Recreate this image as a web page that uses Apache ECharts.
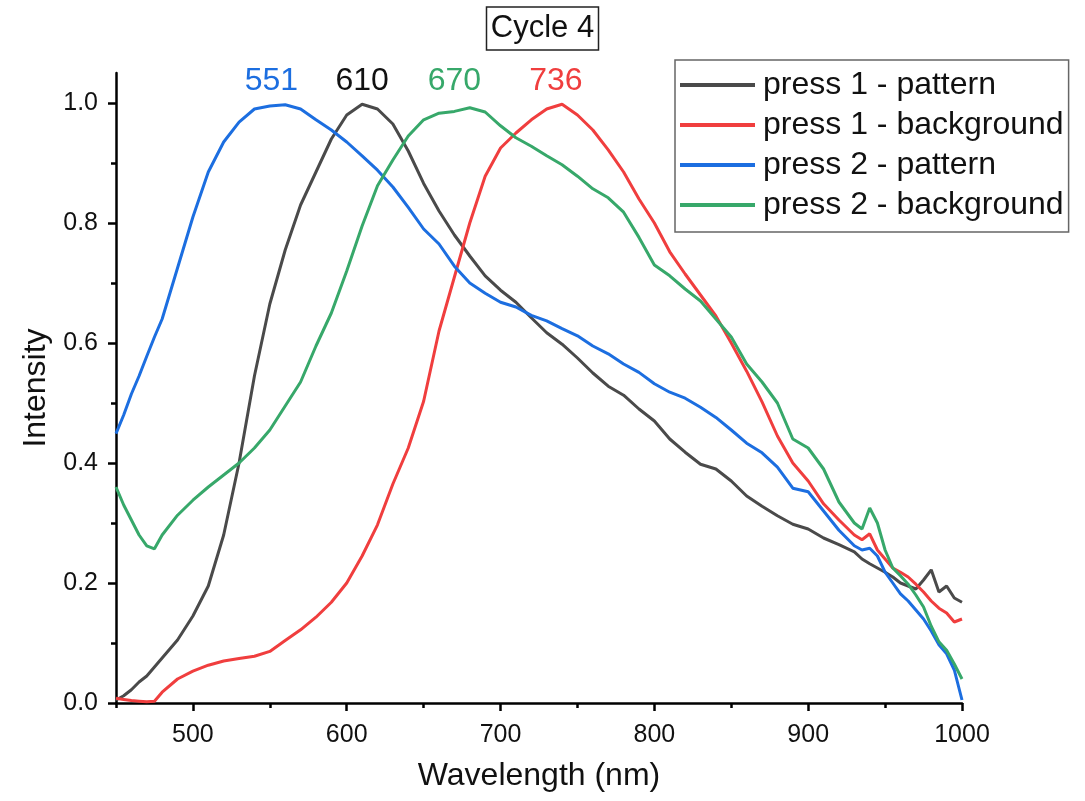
<!DOCTYPE html>
<html>
<head>
<meta charset="utf-8">
<title>Cycle 4</title>
<script src="https://cdn.jsdelivr.net/npm/echarts@6/dist/echarts.min.js"></script>
<style>
	html, body { margin: 0; padding: 0; background: #fff; }
	#chart { width: 1085px; height: 801px; }
</style>
</head>
<body>
<div id="chart"></div>
<script>
// wavelengths (nm), shared by all four spectra
var wavelength = [450, 455, 460, 465, 470, 475, 480, 490, 500, 510, 520, 530, 540, 550, 560, 570, 580, 590, 600, 610,
	620, 630, 640, 650, 660, 670, 680, 690, 700, 710, 720, 730, 740, 750, 760, 770, 780, 790, 800, 810,
	820, 830, 840, 850, 860, 870, 880, 890, 900, 910, 920, 930, 935, 940, 945, 950, 955, 960, 965, 970,
	975, 980, 985, 990, 995, 1000];

var press1Pattern = [0.005, 0.012, 0.022, 0.035, 0.045, 0.06, 0.075, 0.105, 0.145, 0.195, 0.28, 0.40, 0.545, 0.665, 0.755, 0.83, 0.885, 0.94, 0.98, 0.998,
	0.99, 0.965, 0.92, 0.866, 0.82, 0.78, 0.745, 0.712, 0.688, 0.668, 0.642, 0.617, 0.598, 0.575, 0.55, 0.528, 0.513, 0.49, 0.47, 0.44,
	0.418, 0.398, 0.39, 0.37, 0.345, 0.328, 0.312, 0.298, 0.29, 0.275, 0.264, 0.252, 0.24, 0.232, 0.225, 0.218, 0.21, 0.2, 0.195, 0.19,
	0.205, 0.222, 0.185, 0.195, 0.175, 0.168];

var press1Background = [0.008, 0.006, 0.004, 0.003, 0.002, 0.003, 0.018, 0.04, 0.053, 0.063, 0.07, 0.074, 0.078, 0.086, 0.104, 0.122, 0.143, 0.168, 0.2, 0.245,
	0.297, 0.365, 0.425, 0.503, 0.62, 0.71, 0.8, 0.878, 0.925, 0.95, 0.972, 0.99, 0.998, 0.98, 0.955, 0.922, 0.885, 0.84, 0.8, 0.752,
	0.715, 0.68, 0.645, 0.6, 0.553, 0.502, 0.445, 0.4, 0.37, 0.332, 0.305, 0.28, 0.272, 0.282, 0.255, 0.24, 0.225, 0.218, 0.21, 0.198,
	0.185, 0.17, 0.158, 0.15, 0.135, 0.14];

var press2Pattern = [0.449, 0.48, 0.515, 0.545, 0.578, 0.61, 0.64, 0.725, 0.81, 0.885, 0.935, 0.968, 0.99, 0.995, 0.997, 0.99, 0.972, 0.955, 0.935, 0.912,
	0.888, 0.86, 0.826, 0.79, 0.765, 0.728, 0.7, 0.683, 0.668, 0.66, 0.646, 0.637, 0.624, 0.612, 0.595, 0.582, 0.565, 0.551, 0.532, 0.518,
	0.508, 0.493, 0.476, 0.455, 0.433, 0.417, 0.393, 0.358, 0.352, 0.32, 0.288, 0.262, 0.255, 0.258, 0.245, 0.218, 0.2, 0.182, 0.17, 0.155,
	0.14, 0.12, 0.097, 0.082, 0.055, 0.005];

var press2Background = [0.36, 0.33, 0.305, 0.28, 0.262, 0.257, 0.28, 0.313, 0.338, 0.36, 0.38, 0.4, 0.425, 0.455, 0.495, 0.535, 0.595, 0.65, 0.72, 0.795,
	0.862, 0.905, 0.945, 0.972, 0.983, 0.986, 0.992, 0.985, 0.962, 0.942, 0.928, 0.912, 0.897, 0.878, 0.857, 0.842, 0.818, 0.776, 0.73, 0.712,
	0.69, 0.67, 0.64, 0.61, 0.565, 0.535, 0.5, 0.44, 0.425, 0.39, 0.335, 0.3, 0.29, 0.325, 0.3, 0.255, 0.225, 0.212, 0.198, 0.18,
	0.16, 0.128, 0.102, 0.088, 0.065, 0.04];

var seriesNames = ['press 1 - pattern', 'press 1 - background', 'press 2 - pattern', 'press 2 - background'];
var seriesColors = ['#4a4a4a', '#f03e3e', '#1c6ee0', '#37a86a'];
var peakWavelengths = [610, 736, 551, 670];

var xMajorTicks = [500, 600, 700, 800, 900, 1000];
var xMinorTicks = [450, 550, 650, 750, 850, 950];
var yMajorTicks = [0, 0.2, 0.4, 0.6, 0.8, 1.0];
var yMinorTicks = [0.1, 0.3, 0.5, 0.7, 0.9];

var myChart = echarts.init(document.getElementById('chart'));
var font = '"Liberation Sans", Arial, sans-serif';

function pairs(values) {
	return wavelength.map(function(w, i) {
		return [w, values[i]];
	});
}

var allValues = [press1Pattern, press1Background, press2Pattern, press2Background];

// one line per spectrum, peak position written above it
var series = allValues.map(function(values, i) {
	return {
		name : seriesNames[i],
		type : 'line',
		data : pairs(values),
		showSymbol : false,
		symbol : 'none',
		lineStyle : { color : seriesColors[i], width : 3 },
		itemStyle : { color : seriesColors[i] },
		markPoint : {
			symbol : 'circle',
			symbolSize : 0,
			silent : true,
			label : {
				show : true,
				position : 'top',
				distance : 6,
				color : seriesColors[i] == '#4a4a4a' ? '#111' : seriesColors[i],
				fontFamily : font,
				fontSize : 32,
				formatter : String(peakWavelengths[i])
			},
			data : [ { coord : [peakWavelengths[i], 1.0] } ]
		}
	};
});

var option = {
	animation : false,
	backgroundColor : '#fff',
	title : {
		text : 'Cycle 4',
		left : 'center',
		top : 7,
		padding : [6, 5, 6, 5],
		borderColor : '#222',
		borderWidth : 1.5,
		textStyle : { fontFamily : font, fontSize : 31, fontWeight : 'normal', color : '#111' }
	},
	legend : {
		orient : 'vertical',
		left : 675,
		top : 60,
		padding : [8, 5, 10, 5],
		itemGap : 6,
		itemWidth : 75,
		itemHeight : 4,
		icon : 'rect',
		borderColor : '#666',
		borderWidth : 1.5,
		data : seriesNames,
		textStyle : { fontFamily : font, fontSize : 32, color : '#111', lineHeight : 34, padding : [0, 0, 0, 3] }
	},
	grid : { left : 116, right : 123, top : 73, bottom : 98 },
	xAxis : [ {
		type : 'value',
		min : 450,
		max : 1000,
		name : 'Wavelength (nm)',
		nameLocation : 'middle',
		nameGap : 57,
		nameTextStyle : { fontFamily : font, fontSize : 32, color : '#111' },
		axisLine : { lineStyle : { color : '#000', width : 2.5 } },
		axisTick : { show : true, inside : false, length : 8, customValues : xMajorTicks, lineStyle : { color : '#000', width : 2.5 } },
		axisLabel : {
			customValues : xMajorTicks,
			margin : 20,
			fontFamily : font,
			fontSize : 25,
			color : '#111',
			formatter : function(v) { return String(v); }
		},
		splitLine : { show : false }
	}, {
		type : 'value',
		min : 450,
		max : 1000,
		position : 'bottom',
		axisLine : { show : false },
		axisTick : { show : true, inside : false, length : 5, customValues : xMinorTicks, lineStyle : { color : '#000', width : 2.5 } },
		axisLabel : { show : false },
		splitLine : { show : false }
	} ],
	yAxis : [ {
		type : 'value',
		min : 0,
		max : 1.05,
		name : 'Intensity',
		nameLocation : 'middle',
		nameGap : 63,
		nameTextStyle : { fontFamily : font, fontSize : 32, color : '#111' },
		axisLine : { show : true, lineStyle : { color : '#000', width : 2.5 } },
		axisTick : { show : true, inside : false, length : 8, customValues : yMajorTicks, lineStyle : { color : '#000', width : 2.5 } },
		axisLabel : {
			customValues : yMajorTicks,
			margin : 18,
			fontFamily : font,
			fontSize : 25,
			color : '#111',
			formatter : function(v) { return v.toFixed(1); }
		},
		splitLine : { show : false }
	}, {
		type : 'value',
		min : 0,
		max : 1.05,
		position : 'left',
		axisLine : { show : false },
		axisTick : { show : true, inside : false, length : 5, customValues : yMinorTicks, lineStyle : { color : '#000', width : 2.5 } },
		axisLabel : { show : false },
		splitLine : { show : false }
	} ],
	series : series
};

myChart.setOption(option);
</script>
</body>
</html>
